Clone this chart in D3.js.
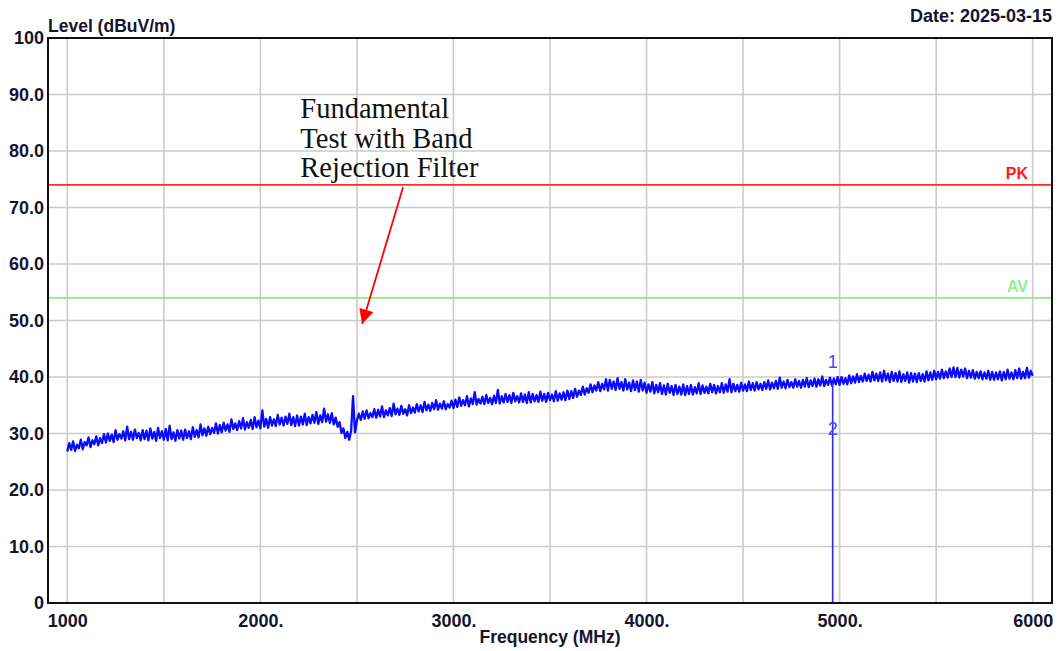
<!DOCTYPE html>
<html>
<head>
<meta charset="utf-8">
<script src="https://cdn.jsdelivr.net/npm/d3@7/dist/d3.min.js"></script>
<style>
  html, body { margin: 0; padding: 0; background: #ffffff; }
  svg { display: block; }
</style>
</head>
<body>
<svg id="chart" width="1061" height="651"></svg>
<script>
// ---------------- DATA ----------------
const sweepStartMHz = 1000;
const sweepStepMHz = 10;
// Measured level (dBuV/m), one reading per 10 MHz from 1000 to 6000 MHz (each row = 200 MHz)
const levels = [
  26.8, 28.3, 27.1, 28.6, 26.9, 28.0, 27.4, 28.9, 27.2, 28.5, 27.9, 29.3, 27.6, 28.8, 28.1, 29.5, 27.9, 29.2, 28.3, 29.9,
  28.4, 30.0, 28.7, 29.8, 28.5, 30.6, 28.9, 29.9, 29.1, 30.4, 28.8, 31.2, 29.0, 30.3, 28.9, 30.7, 29.2, 30.1, 28.8, 30.6,
  29.0, 30.5, 28.8, 30.9, 29.1, 30.3, 28.7, 31.0, 29.2, 30.4, 28.9, 30.8, 28.8, 31.4, 29.0, 30.2, 28.7, 30.6, 29.1, 30.5,
  28.9, 30.7, 29.2, 30.4, 29.0, 31.1, 29.4, 30.6, 29.3, 31.6, 29.7, 30.9, 29.6, 31.2, 29.9, 31.0, 30.1, 31.8, 30.0, 31.5,
  30.2, 31.9, 30.5, 31.6, 30.3, 32.5, 30.8, 31.8, 30.6, 32.2, 30.9, 32.7, 30.7, 32.0, 31.0, 32.4, 30.8, 32.9, 31.1, 32.3,
  30.9, 34.1, 31.2, 32.6, 31.0, 32.9, 31.4, 32.5, 31.3, 33.3, 31.6, 32.8, 31.4, 33.0, 31.7, 33.5, 31.5, 32.9, 31.3, 33.2,
  31.4, 33.0, 31.6, 33.5, 31.5, 32.9, 31.8, 33.3, 31.9, 33.8, 31.7, 33.2, 32.0, 34.4, 32.1, 33.4, 31.9, 33.6, 31.6, 32.8,
  31.2, 32.0, 30.1, 30.9, 29.2, 30.3, 28.9, 30.5, 36.6, 30.2, 32.3, 33.5, 32.4, 33.9, 32.6, 34.1, 32.7, 33.6, 32.9, 34.3,
  32.8, 34.2, 33.0, 34.8, 32.9, 34.1, 33.2, 34.5, 33.1, 35.3, 33.4, 34.4, 33.3, 34.9, 33.5, 34.3, 33.2, 35.0, 33.6, 34.6,
  33.7, 35.2, 33.9, 35.0, 33.8, 35.6, 34.1, 35.1, 34.0, 35.4, 34.3, 35.9, 34.2, 35.3, 34.4, 35.7, 34.3, 35.2, 34.6, 35.8,
  34.5, 36.0, 34.7, 36.4, 34.9, 35.9, 35.0, 36.6, 34.8, 36.2, 35.2, 37.3, 35.1, 36.1, 35.3, 36.5, 35.2, 36.8, 35.4, 36.3,
  35.2, 36.7, 35.4, 37.7, 35.3, 36.6, 35.5, 37.0, 35.6, 36.8, 35.4, 37.2, 35.7, 36.6, 35.5, 37.1, 35.6, 36.9, 35.4, 37.3,
  35.5, 37.0, 35.7, 36.8, 35.6, 37.4, 35.8, 37.0, 35.6, 37.2, 35.9, 36.9, 35.7, 37.5, 35.8, 37.1, 36.0, 37.3, 35.9, 37.6,
  36.1, 37.5, 36.3, 37.9, 36.5, 37.6, 36.8, 38.3, 36.9, 38.0, 37.2, 38.7, 37.3, 38.5, 37.6, 39.1, 37.5, 38.8, 37.8, 39.6,
  37.6, 39.5, 37.9, 39.2, 37.7, 39.8, 37.9, 39.1, 37.6, 39.6, 37.8, 39.0, 37.5, 39.4, 37.7, 39.2, 37.4, 39.5, 37.6, 39.0,
  37.2, 38.7, 37.4, 39.1, 37.1, 38.6, 37.3, 38.9, 37.0, 38.5, 36.9, 38.8, 37.2, 38.4, 36.8, 38.6, 37.0, 38.3, 36.9, 38.7,
  36.8, 38.4, 37.0, 38.6, 36.9, 38.2, 37.1, 38.9, 37.0, 38.5, 37.2, 38.3, 37.1, 38.8, 37.3, 38.6, 37.1, 38.4, 37.3, 38.9,
  37.2, 38.7, 37.4, 39.6, 37.3, 38.8, 37.5, 38.6, 37.4, 39.0, 37.6, 38.7, 37.5, 39.2, 37.7, 38.9, 37.6, 39.1, 37.8, 38.8,
  37.7, 39.1, 37.9, 39.4, 37.8, 39.0, 38.0, 39.3, 37.9, 39.9, 38.1, 39.2, 38.0, 39.5, 38.2, 39.1, 38.1, 39.6, 38.3, 39.3,
  38.1, 39.5, 38.3, 39.8, 38.2, 39.4, 38.4, 39.7, 38.3, 39.6, 38.5, 40.1, 38.4, 39.5, 38.6, 39.9, 38.5, 39.7, 38.7, 40.0,
  38.6, 40.0, 38.8, 39.8, 38.7, 40.3, 38.9, 40.1, 39.0, 40.5, 39.1, 40.2, 39.2, 40.6, 39.3, 40.4, 39.2, 40.9, 39.4, 40.6,
  39.3, 40.8, 39.2, 41.1, 39.4, 40.6, 39.1, 40.9, 39.3, 40.7, 39.2, 41.0, 39.1, 40.5, 39.3, 40.8, 39.0, 40.7, 39.2, 40.6,
  39.1, 40.7, 39.3, 40.5, 39.2, 41.0, 39.4, 40.8, 39.5, 41.1, 39.6, 40.9, 39.7, 41.3, 39.8, 41.0, 39.9, 41.5, 40.0, 41.7,
  40.0, 41.6, 39.9, 41.3, 40.1, 41.5, 39.8, 41.1, 39.9, 41.2, 39.7, 40.9, 39.8, 41.0, 39.6, 40.8, 39.7, 41.1, 39.5, 40.9,
  39.5, 40.8, 39.6, 41.0, 39.4, 40.9, 39.6, 41.3, 39.7, 40.8, 39.6, 41.2, 39.8, 41.5, 39.7, 40.9, 39.8, 41.6, 39.9, 41.1,
  40.2
];

const limitNames = ["PK", "AV"];
const limitLevels = [74, 54];

const markerIds = ["1", "2"];
const markerFreqs = [4964, 4964];
const markerLevels = [39.0, 27.1];

const xGridFreqs = [1000, 1500, 2000, 2500, 3000, 3500, 4000, 4500, 5000, 5500, 6000];
const xTickFreqs = [1000, 2000, 3000, 4000, 5000, 6000];
const xTickLabels = ["1000", "2000.", "3000.", "4000.", "5000.", "6000"];
const yTickValues = [0, 10, 20, 30, 40, 50, 60, 70, 80, 90, 100];
const yTickLabels = ["0", "10.0", "20.0", "30.0", "40.0", "50.0", "60.0", "70.0", "80.0", "90.0", "100"];

const yTitle = "Level (dBuV/m)";
const xTitle = "Frequency (MHz)";
const dateText = "Date: 2025-03-15";

const annotationLines = ["Fundamental", "Test with Band", "Rejection Filter"];
const annotationTextFreq = 2207, annotationTextLevel = 85.8;
const arrowFromFreq = 2739, arrowFromLevel = 73.6;
const arrowToFreq = 2527, arrowToLevel = 49.4;

// ---------------- LAYOUT ----------------
const plot = { left: 48, top: 38, right: 1052, bottom: 603 };
const svg = d3.select("#chart");
const sans = "'Liberation Sans', Arial, Helvetica, sans-serif";
const serif = "'Liberation Serif', 'Times New Roman', Times, serif";
const textColor = "#14142e";

const x = d3.scaleLinear().domain([900, 6100]).range([plot.left, plot.right]);
const y = d3.scaleLinear().domain([0, 100]).range([plot.bottom, plot.top]);

svg.append("rect").attr("width", 1061).attr("height", 651).attr("fill", "#fff");

// grid
const grid = svg.append("g");
grid.selectAll("line.vx").data(xGridFreqs).join("line")
  .attr("x1", d => x(d)).attr("x2", d => x(d))
  .attr("y1", plot.top).attr("y2", plot.bottom)
  .attr("stroke", "#cbcbcb").attr("stroke-width", 1.6);
grid.selectAll("line.hy").data(yTickValues.filter(v => v > 0 && v < 100)).join("line")
  .attr("x1", plot.left).attr("x2", plot.right)
  .attr("y1", d => y(d)).attr("y2", d => y(d))
  .attr("stroke", "#cbcbcb").attr("stroke-width", 1.6);

// clip
svg.append("clipPath").attr("id", "clip").append("rect")
  .attr("x", plot.left).attr("y", plot.top)
  .attr("width", plot.right - plot.left).attr("height", plot.bottom - plot.top);

// limit lines
const limitColors = ["#ff2a2a", "#86f086"];
const limitTextColors = ["#ff1a1a", "#8ef08e"];
limitLevels.forEach((lv, i) => {
  svg.append("line")
    .attr("x1", plot.left).attr("x2", plot.right)
    .attr("y1", y(lv)).attr("y2", y(lv))
    .attr("stroke", limitColors[i]).attr("stroke-width", 1.6);
  svg.append("text")
    .attr("x", 1028).attr("y", y(lv) - 6)
    .attr("text-anchor", "end")
    .attr("font-family", sans).attr("font-weight", "bold").attr("font-size", 16)
    .attr("fill", limitTextColors[i])
    .text(limitNames[i]);
});

// trace
const traceData = levels.map((v, i) => ({ f: sweepStartMHz + i * sweepStepMHz, v }));
svg.append("path")
  .datum(traceData)
  .attr("clip-path", "url(#clip)")
  .attr("fill", "none")
  .attr("stroke", "#0a0aff")
  .attr("stroke-width", 2.3)
  .attr("stroke-linejoin", "round")
  .attr("d", d3.line().x(d => x(d.f)).y(d => y(d.v)));

// markers
markerIds.forEach((id, i) => {
  if (i === 0) {
    svg.append("line")
      .attr("x1", x(markerFreqs[i])).attr("x2", x(markerFreqs[i]))
      .attr("y1", y(0)).attr("y2", y(markerLevels[i]))
      .attr("stroke", "#2a2aff").attr("stroke-width", 1.6);
  }
  svg.append("text")
    .attr("x", x(markerFreqs[i])).attr("y", y(markerLevels[i]) - 15)
    .attr("text-anchor", "middle")
    .attr("font-family", sans).attr("font-size", 18)
    .attr("fill", "#4646ff")
    .text(id);
});

// frame
svg.append("rect")
  .attr("x", plot.left).attr("y", plot.top)
  .attr("width", plot.right - plot.left).attr("height", plot.bottom - plot.top)
  .attr("fill", "none").attr("stroke", "#111").attr("stroke-width", 2);

// axes
const yAxis = d3.axisLeft(y).tickValues(yTickValues)
  .tickFormat((d, i) => yTickLabels[i]).tickSize(0).tickPadding(4);
const gy = svg.append("g").attr("transform", `translate(${plot.left},0)`).call(yAxis);
gy.select(".domain").remove();
gy.selectAll("text").attr("font-family", sans).attr("font-weight", "bold")
  .attr("font-size", 18).attr("fill", textColor);

const xAxis = d3.axisBottom(x).tickValues(xTickFreqs)
  .tickFormat((d, i) => xTickLabels[i]).tickSize(0).tickPadding(11);
const gx = svg.append("g").attr("transform", `translate(0,${plot.bottom})`).call(xAxis);
gx.select(".domain").remove();
gx.selectAll("text").attr("font-family", sans).attr("font-weight", "bold")
  .attr("font-size", 18).attr("fill", textColor);

// titles
svg.append("text").attr("x", 48).attr("y", 31.5)
  .attr("font-family", sans).attr("font-weight", "bold").attr("font-size", 17.5)
  .attr("fill", textColor).text(yTitle);
svg.append("text").attr("x", 1052).attr("y", 21.5).attr("text-anchor", "end")
  .attr("font-family", sans).attr("font-weight", "bold").attr("font-size", 18)
  .attr("fill", textColor).text(dateText);
svg.append("text").attr("x", 550).attr("y", 643).attr("text-anchor", "middle")
  .attr("font-family", sans).attr("font-weight", "bold").attr("font-size", 17.5)
  .attr("fill", textColor).text(xTitle);

// annotation
const ann = svg.append("text")
  .attr("font-family", serif).attr("font-size", 28.5).attr("fill", "#111");
annotationLines.forEach((t, i) => {
  ann.append("tspan").attr("x", x(annotationTextFreq))
    .attr("y", y(annotationTextLevel) + i * 29.5).text(t);
});

svg.append("defs").append("marker")
  .attr("id", "arrowhead").attr("viewBox", "0 0 10 10")
  .attr("refX", 10).attr("refY", 5)
  .attr("markerWidth", 9).attr("markerHeight", 8)
  .attr("markerUnits", "strokeWidth")
  .attr("orient", "auto")
  .append("path").attr("d", "M0,0 L10,5 L0,10 Z").attr("fill", "#ff0000");

svg.append("line")
  .attr("x1", x(arrowFromFreq)).attr("y1", y(arrowFromLevel))
  .attr("x2", x(arrowToFreq)).attr("y2", y(arrowToLevel))
  .attr("stroke", "#ff0000").attr("stroke-width", 1.8)
  .attr("marker-end", "url(#arrowhead)");
</script>
</body>
</html>
